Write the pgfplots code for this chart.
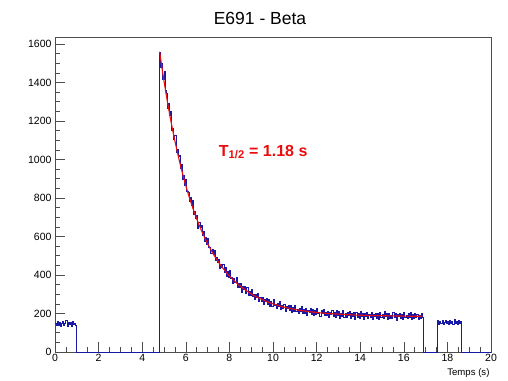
\documentclass[border=0pt]{standalone}
\usepackage{fontspec}
\setmainfont{Liberation Sans}
\usepackage{pgfplots}
\pgfplotsset{compat=1.18}
\definecolor{histblue}{rgb}{0.10,0.10,0.66}
\definecolor{fitred}{rgb}{0.92,0.05,0.05}
\begin{document}
\begin{tikzpicture}[x=1pt,y=1pt]
\path[use as bounding box] (0,0) rectangle (508,380);
\node[font=\fontsize{17.5}{20}\selectfont] at (260,362) {E691 - Beta};
\node[font=\fontsize{9.6}{11}\selectfont, anchor=east] at (493,7) {Temps (s)};
\begin{axis}[
  at={(55pt,28pt)}, anchor=south west,
  scale only axis, width=436pt, height=314.3pt,
  xmin=0, xmax=20, ymin=0, ymax=1633,
  xtick={0,2,...,20}, ytick={0,200,...,1600},
  minor tick num=3,
  tick align=inside, xtick pos=bottom, ytick pos=left,
  major tick length=10pt, minor tick length=5pt,
  every tick/.style={black!70, line width=0.6pt},
  axis line style={black!70, line width=0.8pt},
  /pgf/number format/assume math mode=true,
  /pgf/number format/1000 sep={},
  ticklabel style={font=\fontsize{10.5}{12}\selectfont},
  xticklabel style={yshift=1pt},
  clip=false,
]
\addplot[histblue, line width=0.85pt, const plot] table {
x y
0.00 150
0.05 136
0.10 158
0.15 140
0.20 153
0.25 133
0.30 149
0.35 161
0.40 139
0.45 146
0.50 165
0.55 135
0.60 154
0.65 144
0.70 152
0.75 134
0.80 157
0.85 141
0.90 150
0.95 138
1.00 0
4.80 1555
4.85 1478
4.90 1497
4.95 1417
5.00 1456
5.05 1357
5.10 1344
5.15 1267
5.20 1293
5.25 1231
5.30 1252
5.35 1149
5.40 1162
5.45 1103
5.50 1124
5.55 1038
5.60 1053
5.65 1017
5.70 1019
5.75 954
5.80 973
5.85 898
5.90 918
5.95 867
6.00 898
6.05 833
6.10 829
6.15 781
6.20 805
6.25 764
6.30 785
6.35 716
6.40 731
6.45 692
6.50 710
6.55 644
6.60 671
6.65 646
6.70 659
6.75 605
6.80 628
6.85 574
6.90 595
6.95 560
7.00 590
7.05 543
7.10 545
7.15 510
7.20 533
7.25 506
7.30 526
7.35 475
7.40 490
7.45 463
7.50 482
7.55 432
7.60 457
7.65 440
7.70 454
7.75 414
7.80 440
7.85 391
7.90 417
7.95 387
8.00 422
8.05 380
8.10 386
8.15 356
8.20 384
8.25 360
8.30 385
8.35 338
8.40 357
8.45 334
8.50 357
8.55 310
8.60 339
8.65 325
8.70 342
8.75 306
8.80 333
8.85 292
8.90 317
8.95 293
9.00 324
9.05 291
9.10 298
9.15 274
9.20 299
9.25 281
9.30 304
9.35 264
9.40 283
9.45 265
9.50 285
9.55 248
9.60 272
9.65 262
9.70 279
9.75 247
9.80 274
9.85 235
9.90 262
9.95 239
10.00 272
10.05 240
10.10 249
10.15 227
10.20 253
10.25 236
10.30 261
10.35 222
10.40 241
10.45 225
10.50 247
10.55 210
10.60 236
10.65 226
10.70 244
10.75 214
10.80 242
10.85 204
10.90 231
10.95 209
11.00 243
11.05 212
11.10 222
11.15 200
11.20 227
11.25 211
11.30 236
11.35 198
11.40 219
11.45 203
11.50 225
11.55 189
11.60 215
11.65 207
11.70 225
11.75 195
11.80 222
11.85 188
11.90 214
11.95 193
12.00 226
12.05 199
12.10 207
12.15 186
12.20 214
12.25 198
12.30 221
12.35 188
12.40 206
12.45 191
12.50 213
12.55 179
12.60 205
12.65 197
12.70 214
12.75 187
12.80 208
12.85 181
12.90 215
12.95 191
13.00 209
13.05 177
13.10 201
13.15 187
13.20 217
13.25 182
13.30 198
13.35 180
13.40 205
13.45 191
13.50 213
13.55 175
13.60 201
13.65 183
13.70 207
13.75 171
13.80 208
13.85 181
13.90 198
13.95 175
14.00 212
14.05 186
14.10 201
14.15 171
14.20 203
14.25 184
14.30 208
14.35 176
14.40 193
14.45 179
14.50 205
14.55 167
14.60 197
14.65 187
14.70 203
14.75 176
14.80 200
14.85 170
14.90 207
14.95 180
15.00 194
15.05 172
15.10 209
15.15 183
15.20 198
15.25 169
15.30 202
15.35 177
15.40 192
15.45 173
15.50 205
15.55 181
15.60 200
15.65 166
15.70 195
15.75 184
15.80 203
15.85 174
15.90 197
15.95 168
16.00 205
16.05 178
16.10 191
16.15 172
16.20 199
16.25 181
16.30 204
16.35 167
16.40 194
16.45 176
16.50 200
16.55 180
16.60 197
16.65 170
16.70 192
16.75 175
16.80 202
16.85 178
16.90 0
17.55 162
17.60 145
17.65 160
17.70 148
17.75 166
17.80 143
17.85 156
17.90 164
17.95 147
18.00 159
18.05 141
18.10 165
18.15 150
18.20 158
18.25 144
18.30 167
18.35 151
18.40 160
18.45 142
18.50 163
18.55 149
18.60 157
18.65 0
20.00 0
};
\addplot[fitred, line width=1.1pt] coordinates {
(4.8,1560)(4.9,1482)(5.0,1408)(5.1,1338)(5.2,1272)(5.3,1210)(5.4,1152)(5.5,1097)(5.6,1045)(5.7,996)(5.8,950)(5.9,906)(6.0,865)(6.1,826)(6.2,790)(6.3,755)(6.4,723)(6.5,692)(6.6,663)(6.7,636)(6.8,610)(6.9,586)(7.0,563)(7.1,542)(7.2,521)(7.3,502)(7.4,484)(7.5,467)(7.6,451)(7.7,436)(7.8,422)(7.9,408)(8.0,395)(8.2,372)(8.4,351)(8.6,333)(8.8,317)(9.0,302)(9.2,289)(9.4,278)(9.6,267)(9.8,258)(10.0,250)(10.2,243)(10.4,236)(10.6,231)(10.8,226)(11.0,221)(11.2,217)(11.4,214)(11.6,210)(11.8,208)(12.0,205)(12.3,202)(12.8,198)(13.3,195)(13.8,192)(14.3,190)(14.8,189)(15.3,188)(15.8,187)(16.3,186)(16.85,186)
};
\node[text=fitred, font=\bfseries\fontsize{16}{18}\selectfont] at (axis cs:9.55,1040) {T\textsubscript{1/2} = 1.18 s};
\end{axis}
\end{tikzpicture}
\end{document}
